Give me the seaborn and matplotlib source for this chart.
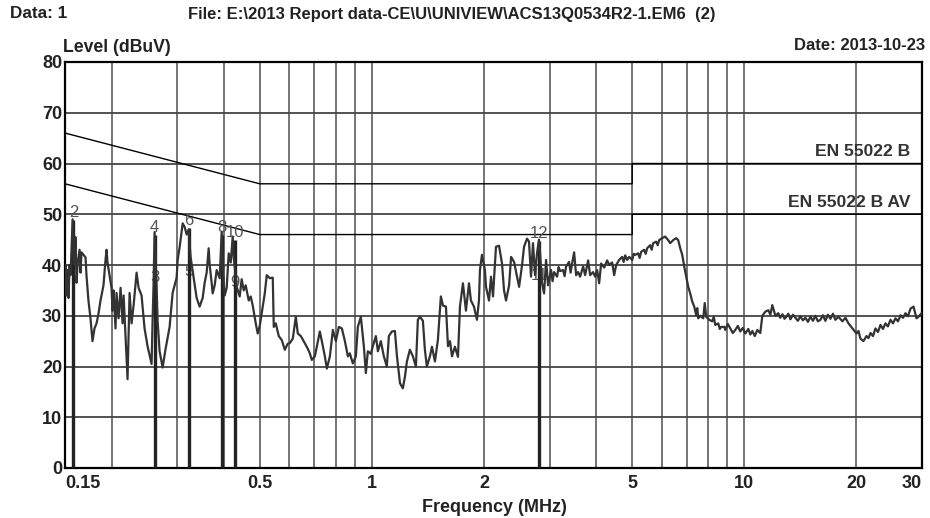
import matplotlib
matplotlib.use("Agg")
import matplotlib.pyplot as plt
from matplotlib.ticker import NullFormatter
import numpy as np
import pandas as pd
import seaborn as sns

# Conducted emission scan, quasi-peak trace (MHz, dBuV)
freq_mhz = [
    0.150, 0.1505, 0.1514, 0.1523, 0.1533, 0.1543, 0.1553, 0.1562, 0.1572, 0.1582,
    0.1591, 0.1601, 0.1611, 0.1621, 0.1641, 0.1651, 0.1661, 0.1682, 0.1703, 0.1713,
    0.1734, 0.1756, 0.1778, 0.1800, 0.1823, 0.1846, 0.1868, 0.1903, 0.1927, 0.1939,
    0.1951, 0.1975, 0.2000, 0.2012, 0.2025, 0.2050, 0.2063, 0.2089, 0.2115, 0.2141,
    0.2155, 0.2181, 0.2208, 0.2236, 0.2264, 0.2292, 0.2335, 0.2364, 0.2408, 0.2453,
    0.2499, 0.2562, 0.2578, 0.2594, 0.2610, 0.2626, 0.2642, 0.2659, 0.2692, 0.2743,
    0.2794, 0.2864, 0.2918, 0.2991, 0.3010, 0.3047, 0.3085, 0.3105, 0.3143, 0.3182,
    0.3222, 0.3242, 0.3262, 0.3323, 0.3385, 0.3448, 0.3513, 0.3557, 0.3601, 0.3646,
    0.3669, 0.3714, 0.3737, 0.3784, 0.3831, 0.3903, 0.3952, 0.3976, 0.4001, 0.4026,
    0.4076, 0.4127, 0.4179, 0.4230, 0.4256, 0.4283, 0.4336, 0.4417, 0.4472, 0.4528,
    0.4584, 0.4671, 0.4729, 0.4788, 0.4878, 0.4938, 0.5000, 0.5094, 0.5158, 0.5222,
    0.5320, 0.5419, 0.5453, 0.5521, 0.5624, 0.5730, 0.5838, 0.5946, 0.6021, 0.6134,
    0.6249, 0.6326, 0.6445, 0.6606, 0.6730, 0.6814, 0.6899, 0.7028, 0.7116, 0.7249,
    0.7340, 0.7478, 0.7571, 0.7714, 0.7858, 0.8005, 0.8155, 0.8308, 0.8464, 0.8623,
    0.8728, 0.8891, 0.9058, 0.9170, 0.9342, 0.9517, 0.9636, 0.9755, 0.9938, 1.006,
    1.025, 1.038, 1.057, 1.077, 1.097, 1.111, 1.132, 1.153, 1.168, 1.190,
    1.211, 1.227, 1.242, 1.265, 1.289, 1.313, 1.329, 1.346, 1.371, 1.388,
    1.405, 1.432, 1.450, 1.477, 1.504, 1.532, 1.552, 1.581, 1.601, 1.621,
    1.641, 1.671, 1.703, 1.724, 1.756, 1.789, 1.823, 1.845, 1.880, 1.915,
    1.939, 1.951, 1.975, 2.012, 2.025, 2.063, 2.089, 2.115, 2.154, 2.195,
    2.236, 2.264, 2.292, 2.336, 2.365, 2.409, 2.454, 2.485, 2.531, 2.562,
    2.610, 2.642, 2.675, 2.708, 2.742, 2.776, 2.810, 2.828, 2.864, 2.900,
    2.936, 2.972, 3.028, 3.056, 3.085, 3.143, 3.172, 3.202, 3.262, 3.292,
    3.323, 3.385, 3.417, 3.449, 3.492, 3.535, 3.579, 3.624, 3.692, 3.738,
    3.808, 3.855, 3.927, 3.976, 4.026, 4.076, 4.127, 4.205, 4.283, 4.337,
    4.418, 4.473, 4.529, 4.613, 4.699, 4.743, 4.788, 4.848, 4.908, 5.000,
    5.047, 5.093, 5.189, 5.237, 5.286, 5.385, 5.435, 5.486, 5.588, 5.640,
    5.693, 5.800, 5.854, 5.908, 6.019, 6.132, 6.246, 6.324, 6.443, 6.563,
    6.645, 6.730, 6.813, 6.898, 6.984, 7.071, 7.158, 7.248, 7.338, 7.430,
    7.476, 7.521, 7.615, 7.758, 7.830, 7.903, 8.051, 8.203, 8.280, 8.356,
    8.513, 8.592, 8.673, 8.835, 8.890, 9.029, 9.171, 9.314, 9.459, 9.607,
    9.755, 9.907, 10.06, 10.25, 10.38, 10.51, 10.67, 10.84, 11.04, 11.18,
    11.39, 11.60, 11.75, 11.89, 12.12, 12.34, 12.49, 12.66, 12.82, 12.97,
    13.13, 13.30, 13.51, 13.72, 13.93, 14.14, 14.36, 14.59, 14.82, 15.05,
    15.29, 15.52, 15.76, 16.01, 16.26, 16.51, 16.77, 17.03, 17.30, 17.56,
    17.89, 18.34, 18.69, 19.04, 19.52, 20.01, 20.26, 20.50, 20.89, 21.28,
    21.55, 21.82, 22.16, 22.50, 22.85, 23.21, 23.57, 23.93, 24.30, 24.69,
    25.08, 25.46, 25.86, 26.27, 26.68, 27.09, 27.51, 27.94, 28.47, 29.00,
    29.36, 29.91,
]
level_dbuv = [
    36.0, 40.0, 34.0, 39.0, 33.5, 40.0, 38.0, 43.0, 49.0, 42.0,
    40.0, 45.5, 36.5, 40.0, 43.0, 38.5, 42.5, 42.0, 41.5, 38.0,
    33.0, 29.5, 25.0, 27.5, 28.5, 30.5, 33.0, 36.0, 41.0, 43.0,
    40.5, 38.0, 35.5, 31.0, 35.0, 27.5, 34.5, 29.5, 35.5, 28.5,
    34.0, 26.0, 17.5, 34.5, 28.5, 32.0, 38.5, 35.5, 34.0, 27.5,
    24.0, 20.5, 29.0, 36.5, 46.5, 41.0, 36.0, 29.0, 23.0, 19.8,
    23.5, 27.8, 34.5, 37.5, 41.0, 43.5, 46.5, 48.2, 47.5, 46.0,
    47.0, 44.0, 41.5, 37.5, 33.5, 31.8, 33.5, 36.5, 38.5, 43.3,
    40.0, 36.5, 34.4, 36.0, 39.0, 37.4, 46.5, 40.0, 36.5, 34.0,
    35.5, 42.3, 40.5, 45.6, 41.5, 39.7, 35.7, 33.8, 37.2, 35.0,
    36.0, 33.0, 33.8, 32.0, 28.5, 26.5, 28.0, 31.8, 34.4, 38.0,
    37.4, 37.5, 27.8, 28.5, 26.0, 25.2, 23.3, 24.5, 24.6, 25.5,
    29.8, 26.5, 26.0, 24.6, 23.5, 22.6, 21.3, 22.0, 23.9, 26.9,
    25.0, 22.0, 19.6, 22.0, 27.2, 25.0, 27.8, 27.5, 25.0, 22.0,
    22.6, 20.6, 22.0, 27.8, 29.8, 24.0, 18.7, 23.0, 22.5, 24.0,
    26.0, 23.0, 25.0, 22.0, 20.0, 26.0, 26.9, 27.0, 22.0, 16.7,
    15.7, 18.0, 21.0, 23.3, 22.0, 20.0, 29.2, 29.8, 29.0, 23.3,
    20.0, 22.0, 23.9, 21.0, 25.2, 33.8, 32.0, 31.8, 24.0, 25.0,
    22.0, 23.9, 21.9, 31.8, 36.4, 31.0, 36.4, 33.0, 31.8, 29.2,
    33.0, 39.0, 42.0, 39.0, 35.7, 33.0, 37.7, 33.8, 43.6, 43.8,
    40.3, 35.0, 33.0, 36.0, 41.6, 40.6, 37.7, 35.7, 40.0, 43.6,
    45.2, 44.6, 37.7, 44.3, 38.0, 42.3, 45.0, 42.5, 36.4, 34.4,
    41.0, 36.0, 39.0, 36.8, 38.6, 37.7, 39.6, 38.8, 39.0, 37.8,
    39.7, 40.6, 38.5, 40.3, 42.5, 38.0, 38.6, 37.7, 39.7, 38.0,
    40.9, 38.0, 38.6, 37.7, 39.0, 36.4, 40.3, 39.5, 40.9, 40.0,
    40.5, 38.0, 40.0, 41.0, 41.6, 40.6, 41.9, 41.0, 41.6, 41.0,
    42.2, 42.0, 42.3, 41.4, 42.6, 43.0, 42.2, 43.3, 43.9, 43.0,
    44.3, 44.6, 43.9, 44.9, 45.3, 45.6, 44.9, 44.3, 44.9, 45.3,
    44.9, 43.3, 42.0, 39.7, 37.7, 35.7, 34.4, 32.8, 31.8, 30.1,
    31.5, 29.5, 30.0, 29.5, 32.5, 29.8, 29.2, 28.9, 29.8, 28.2,
    28.5, 27.4, 27.8, 27.8, 27.2, 28.4, 27.5, 26.6, 27.2, 28.0,
    26.9, 27.6, 26.5, 27.4, 26.3, 27.0, 26.0, 27.2, 26.6, 30.0,
    30.8, 31.1, 30.2, 32.1, 30.0, 30.5, 29.6, 30.3, 29.4, 29.8,
    30.4, 29.3, 30.2, 29.6, 29.0, 29.9, 29.1, 29.6, 28.8, 29.8,
    29.0, 30.0, 28.9, 29.2, 30.1, 29.0, 30.2, 29.4, 30.4, 29.2,
    29.8, 28.9, 29.6, 28.5, 27.5, 26.5, 27.0, 25.5, 25.0, 26.0,
    25.6, 26.6, 26.0, 27.5, 26.8, 28.2, 27.4, 28.5, 27.9, 29.2,
    28.5, 29.5, 28.9, 30.1, 29.6, 30.5, 29.9, 31.4, 31.8, 29.5,
    29.8, 30.5,
]

# EN 55022 class B limits
limit_freq = [0.15, 0.5, 5.0, 5.0, 30.0]
limit_qp = [66.0, 56.0, 56.0, 60.0, 60.0]
limit_av = [56.0, 46.0, 46.0, 50.0, 50.0]

# Marker table
marker_no = ["1", "2", "3", "4", "5", "6", "7", "8", "9", "10", "11", "12"]
marker_freq = [0.158, 0.158, 0.261, 0.261, 0.322, 0.322, 0.395, 0.395, 0.428, 0.428, 2.81, 2.81]
marker_level = [39.5, 48.8, 36.0, 46.0, 37.2, 47.2, 37.2, 46.0, 35.0, 45.0, 36.5, 44.8]

x_major = [0.15, 0.5, 1, 2, 5, 10, 20, 30]
x_major_labels = ["0.15", "0.5", "1", "2", "5", "10", "20", "30"]
x_minor = [0.2, 0.3, 0.4, 0.6, 0.7, 0.8, 0.9, 3, 4, 6, 7, 8, 9]
y_ticks = [0, 10, 20, 30, 40, 50, 60, 70, 80]

sns.set_theme(style="white")
plt.rcParams["font.family"] = ["Liberation Sans", "DejaVu Sans"]

fig = plt.figure(figsize=(9.3, 5.18), dpi=100)
ax = fig.add_axes([65 / 930, 1 - 468 / 518, (922 - 65) / 930, (468 - 62) / 518])

ax.set_xscale("log")
ax.set_xlim(0.15, 30)
ax.set_ylim(0, 80)
ax.set_axisbelow(True)

ax.set_xticks(x_major, labels=x_major_labels)
ax.set_xticks(x_minor, minor=True)
ax.xaxis.set_minor_formatter(NullFormatter())
ax.set_yticks(y_ticks)
ax.tick_params(axis="both", which="both", length=0)
ax.tick_params(axis="x", pad=5, labelsize=13)
ax.tick_params(axis="y", pad=2, labelsize=13)
for lab in ax.get_xticklabels() + ax.get_yticklabels():
    lab.set_fontweight("bold")
    lab.set_color("#222222")
ax.get_xticklabels()[0].set_horizontalalignment("left")
ax.get_xticklabels()[-1].set_horizontalalignment("right")

ax.grid(which="both", axis="x", color="#6a6a6a", lw=1.3)
ax.grid(which="major", axis="y", color="#444444", lw=1.3)
for s in ax.spines.values():
    s.set_color("black")
    s.set_linewidth(1.6)

# limit lines
ax.plot(limit_freq, limit_qp, color="black", lw=1.0, zorder=2)
ax.plot(limit_freq, limit_av, color="black", lw=1.0, zorder=2)
ax.text(0.986, 60.9, "EN 55022 B", transform=ax.get_yaxis_transform(),
        ha="right", va="bottom", fontsize=12.6, fontweight="bold", color="#333333")
ax.text(0.986, 50.9, "EN 55022 B AV", transform=ax.get_yaxis_transform(),
        ha="right", va="bottom", fontsize=12.6, fontweight="bold", color="#333333")

# marker labels sit under the trace
for n, f, v in zip(marker_no, marker_freq, marker_level):
    ax.text(f, v, n, ha="center", va="bottom", fontsize=12, color="#555555", zorder=2.5)

# marker stems from the floor up to the quasi-peak reading
df_mk = pd.DataFrame({"freq": marker_freq, "level": marker_level})
peak = df_mk.groupby("freq", as_index=False)["level"].max()
ax.vlines(peak["freq"], 0, peak["level"], color="#222222", lw=2.4, zorder=3)

df = pd.DataFrame({"freq": freq_mhz, "level": level_dbuv})
sns.lineplot(data=df, x="freq", y="level", ax=ax, color="#333333", lw=1.6,
             sort=False, estimator=None, zorder=4)
ax.set_xlabel("")
ax.set_ylabel("")

# header and axis captions
fig.text(10 / 930, 1 - 14 / 518, "Data: 1", ha="left", va="center",
         fontsize=12.3, fontweight="bold", color="#222222")
fig.text(188 / 930, 1 - 14 / 518,
         "File: E:\\2013 Report data-CE\\U\\UNIVIEW\\ACS13Q0534R2-1.EM6  (2)",
         ha="left", va="center", fontsize=12.0, fontweight="bold", color="#222222")
fig.text(63 / 930, 1 - 47 / 518, "Level (dBuV)", ha="left", va="center",
         fontsize=12.7, fontweight="bold", color="#222222")
fig.text(925 / 930, 1 - 45 / 518, "Date: 2013-10-23", ha="right", va="center",
         fontsize=12, fontweight="bold", color="#222222")
fig.text(494 / 930, 1 - 507 / 518, "Frequency (MHz)", ha="center", va="center",
         fontsize=13, fontweight="bold", color="#222222")

fig.savefig("out.png", dpi=100, facecolor="white")
